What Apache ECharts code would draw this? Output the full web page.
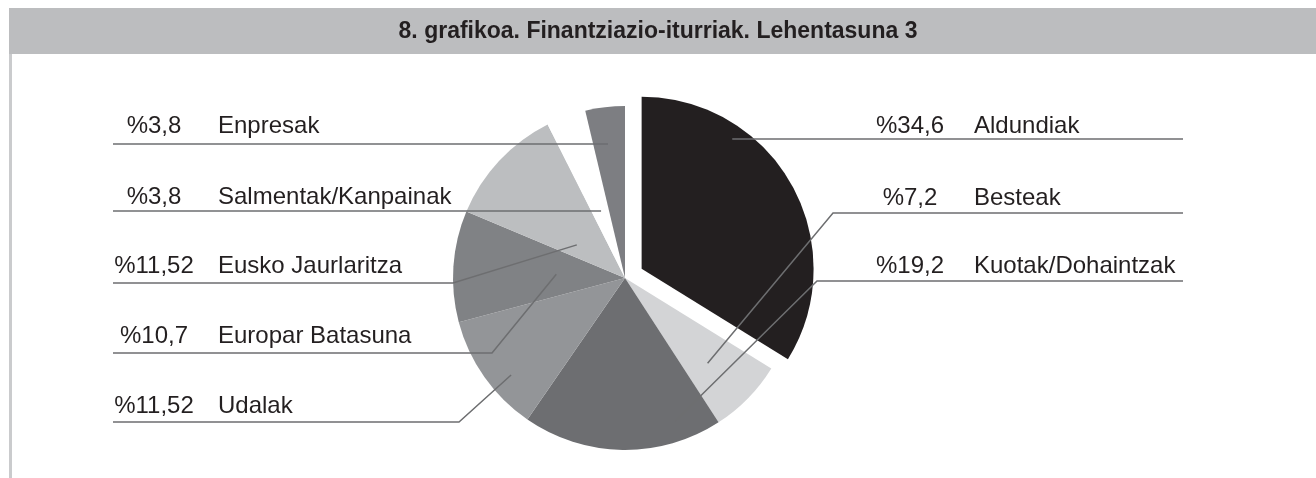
<!DOCTYPE html>
<html>
<head>
<meta charset="utf-8">
<style>
html, body { margin: 0; padding: 0; background: #fff; }
#chart { width: 1316px; height: 478px; }
</style>
</head>
<body>
<div id="chart"></div>
<script src="https://cdn.jsdelivr.net/npm/echarts@6/dist/echarts.min.js"></script>
<script>
var names = ['Aldundiak', 'Besteak', 'Kuotak/Dohaintzak', 'Udalak', 'Europar Batasuna', 'Eusko Jaurlaritza', 'Salmentak/Kanpainak', 'Enpresak'];
var values = [34.6, 7.2, 19.2, 11.52, 10.7, 11.52, 3.8, 3.8];
var colors = ['#231f20', '#d3d4d6', '#6d6e71', '#939598', '#808285', '#bcbec0', '#ffffff', '#7d7e82'];
var exploded = [true, false, false, false, false, false, false, false];

var cx = 625, cy = 278, R = 172, offset = 19;
var font = 'Liberation Sans, Arial, sans-serif';

// leader line start: fraction across the slice, fraction of the radius (null = meet the row line)
var anchorT = [0.29, 0.56, 0.2, 0.37, 0.48, 0.29, 0.53, 0.46];
var anchorR = [0.92, 0.69, 0.88, 0.87, 0.40, 0.34, null, null];
// label rows: side, text y, line y, elbow x
var rows = [
    {side: 'r', ty: 126, ly: 139, ex: 733},
    {side: 'r', ty: 198, ly: 213, ex: 833},
    {side: 'r', ty: 266, ly: 281, ex: 817},
    {side: 'l', ty: 406, ly: 422, ex: 459},
    {side: 'l', ty: 336, ly: 353, ex: 492},
    {side: 'l', ty: 266, ly: 283, ex: 453},
    {side: 'l', ty: 197, ly: 211, ex: null},
    {side: 'l', ty: 126, ly: 144, ex: null}
];

var total = values.reduce(function (a, b) { return a + b; }, 0);

function startOf(i) {
    var s = 0;
    for (var k = 0; k < i; k++) s += values[k] / total * 360;
    return s;
}

// centre of a slice, pulled out along its bisector when exploded
function centreOf(i) {
    if (!exploded[i]) return [cx, cy];
    var mid = (startOf(i) + values[i] / total * 180) * Math.PI / 180;
    return [cx + offset * Math.sin(mid), cy - offset * Math.cos(mid)];
}

function anchorOf(i) {
    var th = (startOf(i) + anchorT[i] * values[i] / total * 360) * Math.PI / 180;
    var o = centreOf(i);
    var r = anchorR[i] == null ? (o[1] - rows[i].ly) / Math.cos(th) : anchorR[i] * R;
    return [o[0] + r * Math.sin(th), o[1] - r * Math.cos(th)];
}

var hidden = {color: 'rgba(0,0,0,0)', borderWidth: 0};

// mode: 'flat' = slices in place, 'out' = exploded slice, 'labels' = transparent layer carrying labels on top
function pieSeries(mode) {
    var c = mode === 'out' ? centreOf(exploded.indexOf(true)) : [cx, cy];
    var withLabels = mode === 'labels';
    return {
        type: 'pie',
        z: withLabels ? 5 : 2,
        center: c,
        radius: R,
        startAngle: 90,
        clockwise: true,
        avoidLabelOverlap: false,
        silent: true,
        emphasis: {disabled: true},
        itemStyle: {borderWidth: 0},
        data: names.map(function (n, i) {
            var on = mode === 'out' ? exploded[i] : (mode === 'flat' ? !exploded[i] : false);
            return {
                name: n,
                value: values[i],
                itemStyle: on ? {color: colors[i], borderWidth: 0} : hidden
            };
        }),
        label: {
            show: withLabels,
            position: 'outside',
            color: '#231f20',
            fontFamily: font,
            fontSize: 24,
            formatter: function (p) {
                return '{p|%' + String(p.value).replace('.', ',') + '}{n|' + p.name + '}';
            },
            rich: {
                p: {width: 82, align: 'right', fontFamily: font, fontSize: 24, color: '#231f20'},
                n: {padding: [0, 0, 0, 23], fontFamily: font, fontSize: 24, color: '#231f20'}
            }
        },
        labelLine: {
            show: withLabels,
            showAbove: true,
            lineStyle: {color: '#6d6e70', width: 1.5}
        },
        labelLayout: withLabels ? function (p) {
            var i = p.dataIndex, row = rows[i];
            var a = anchorOf(i);
            var left = row.side === 'l';
            var ex = row.ex == null ? a[0] : row.ex;
            return {
                x: left ? 113 : 869,
                y: row.ty,
                align: 'left',
                verticalAlign: 'middle',
                labelLinePoints: [a, [ex, row.ly], [left ? 113 : 1183, row.ly]]
            };
        } : null
    };
}

var chart = echarts.init(document.getElementById('chart'));
var option = {
    animation: false,
    title: {
        text: '8. grafikoa. Finantziazio-iturriak. Lehentasuna 3',
        left: 'center',
        top: 20,
        padding: 0,
        textStyle: {
            fontFamily: font,
            fontWeight: 'bold',
            fontSize: 23,
            color: '#231f20'
        }
    },
    graphic: [
        {type: 'rect', z: -10, shape: {x: 9, y: 8, width: 1307, height: 46}, style: {fill: '#bcbdbf'}},
        {type: 'rect', z: -10, shape: {x: 9, y: 54, width: 3, height: 424}, style: {fill: '#cacbcd'}}
    ],
    series: [pieSeries('flat'), pieSeries('out'), pieSeries('labels')]
};
chart.setOption(option);
</script>
</body>
</html>
